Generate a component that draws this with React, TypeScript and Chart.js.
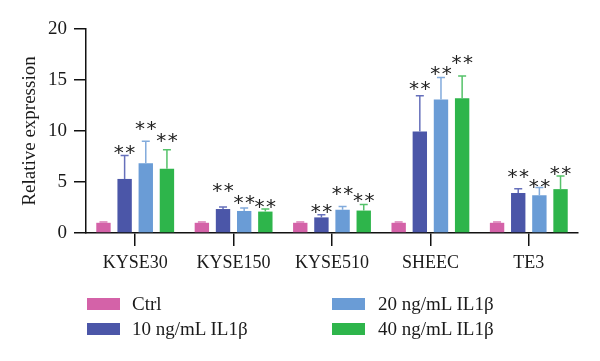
import React, { useEffect, useRef } from "react";
import { Chart, registerables } from "chart.js";

Chart.register(...registerables);

const categories = ["KYSE30", "KYSE150", "KYSE510", "SHEEC", "TE3"];
const seriesLabels = ["Ctrl", "10 ng/mL IL1β", "20 ng/mL IL1β", "40 ng/mL IL1β"];
const ctrlValues = [1.0, 1.0, 1.0, 1.0, 1.0];
const ctrlErr = [0.08, 0.08, 0.08, 0.08, 0.08];
const ng10Values = [5.3, 2.35, 1.53, 9.95, 3.92];
const ng10Err = [2.3, 0.2, 0.27, 3.5, 0.43];
const ng20Values = [6.85, 2.16, 2.28, 13.1, 3.7];
const ng20Err = [2.15, 0.3, 0.32, 2.15, 0.75];
const ng40Values = [6.3, 2.1, 2.2, 13.2, 4.3];
const ng40Err = [1.85, 0.25, 0.6, 2.2, 1.3];
const significance = ["", "**", "**", "**"];
// height (in axis units) at which each "**" mark sits
const ctrlMarkAt = [0, 0, 0, 0, 0];
const ng10MarkAt = [7.75, 4.0, 1.97, 14.05, 5.4];
const ng20MarkAt = [10.1, 2.87, 3.7, 15.45, 4.42];
const ng40MarkAt = [8.9, 2.45, 3.07, 16.6, 5.66];
const yTicks = [0, 5, 10, 15, 20];

const barColors = ["#d462a8", "#4b56a8", "#6a9cd6", "#2eb54b"];
const errColors = ["#d97ab4", "#6670bb", "#82abdc", "#55c26a"];

const FONT = "'Liberation Serif', 'Times New Roman', serif";

const errorBarPlugin = {
  id: "errorBars",
  afterDatasetsDraw(chart: any) {
    const ctx = chart.ctx;
    const yScale = chart.scales.y;
    const errs = [ctrlErr, ng10Err, ng20Err, ng40Err];
    const marks = [ctrlMarkAt, ng10MarkAt, ng20MarkAt, ng40MarkAt];
    chart.data.datasets.forEach((ds: any, di: number) => {
      const meta = chart.getDatasetMeta(di);
      meta.data.forEach((bar: any, i: number) => {
        const v = ds.data[i];
        const top = yScale.getPixelForValue(v + errs[di][i]);
        const x = bar.x;
        ctx.save();
        ctx.strokeStyle = errColors[di];
        ctx.lineWidth = 1.5;
        ctx.beginPath();
        ctx.moveTo(x, bar.y);
        ctx.lineTo(x, top);
        ctx.moveTo(x - 4, top);
        ctx.lineTo(x + 4, top);
        ctx.stroke();
        const mark = significance[di];
        if (mark) {
          ctx.fillStyle = "#222";
          ctx.font = `20px 'DejaVu Sans', sans-serif`;
          ctx.textAlign = "center";
          ctx.textBaseline = "alphabetic";
          const m = ctx.measureText("*");
          const bottomPx = yScale.getPixelForValue(marks[di][i]);
          const baseline = bottomPx - m.actualBoundingBoxDescent;
          const n = mark.length;
          const gap = 11.5;
          for (let k = 0; k < n; k++) {
            ctx.fillText(mark[k], x + (k - (n - 1) / 2) * gap, baseline);
          }
        }
        ctx.restore();
      });
    });
  },
};

export default function App() {
  const ref = useRef<HTMLCanvasElement>(null);
  useEffect(() => {
    if (!ref.current) return;
    const allValues = [ctrlValues, ng10Values, ng20Values, ng40Values];
    const chart = new Chart(ref.current, {
      type: "bar",
      data: {
        labels: categories,
        datasets: allValues.map((vals, i) => ({
          label: seriesLabels[i],
          data: vals,
          backgroundColor: barColors[i],
          borderWidth: 0,
          categoryPercentage: 0.86,
          barPercentage: 0.68,
        })),
      },
      options: {
        animation: false,
        responsive: false,
        devicePixelRatio: 1,
        layout: { padding: { top: 29, right: 22, bottom: 0, left: 0 } },
        plugins: { legend: { display: false }, tooltip: { enabled: false } },
        scales: {
          x: {
            offset: true,
            grid: {
              display: true,
              drawOnChartArea: false,
              drawTicks: true,
              tickLength: 13,
              offset: false,
              color: "#111",
              lineWidth: 1.5,
            },
            border: { display: true, color: "#111", width: 1.5 },
            ticks: {
              color: "#1a1a1a",
              font: { family: FONT, size: 18 },
              padding: 6,
              maxRotation: 0,
            },
            afterFit: (s: any) => {
              s.height = 128;
            },
          },
          y: {
            min: 0,
            max: 20,
            afterBuildTicks: (s: any) => {
              s.ticks = yTicks.map((v) => ({ value: v }));
            },
            grid: {
              display: true,
              drawOnChartArea: false,
              drawTicks: true,
              tickLength: 12,
              color: "#111",
              lineWidth: 1.5,
            },
            border: { display: true, color: "#111", width: 1.5 },
            ticks: {
              color: "#1a1a1a",
              font: { family: FONT, size: 19 },
              padding: 7,
            },
            title: {
              display: true,
              text: "Relative expression",
              color: "#1a1a1a",
              font: { family: FONT, size: 19 },
              padding: { top: 19, bottom: 0 },
            },
            afterFit: (s: any) => {
              s.width = 86;
            },
          },
        },
      },
      plugins: [errorBarPlugin],
    });
    return () => chart.destroy();
  }, []);

  const legendPos = [
    { x: 87, y: 304, tx: 132 },
    { x: 87, y: 329, tx: 132 },
    { x: 332, y: 304, tx: 378 },
    { x: 332, y: 329, tx: 378 },
  ];

  return (
    <div style={{ position: "absolute", left: 0, top: 0, width: 600, height: 361, background: "#fff" }}>
      <canvas ref={ref} width={600} height={361} style={{ width: 600, height: 361, display: "block" }} />
      {seriesLabels.map((lab, i) => (
        <div key={lab}>
          <div
            style={{
              position: "absolute",
              left: legendPos[i].x,
              top: legendPos[i].y - 6,
              width: 33,
              height: 12,
              background: barColors[i],
            }}
          />
          <div
            style={{
              position: "absolute",
              left: legendPos[i].tx,
              top: legendPos[i].y - 12,
              height: 24,
              lineHeight: "24px",
              fontFamily: FONT,
              fontSize: 19,
              color: "#1a1a1a",
              whiteSpace: "nowrap",
            }}
          >
            {lab}
          </div>
        </div>
      ))}
    </div>
  );
}
